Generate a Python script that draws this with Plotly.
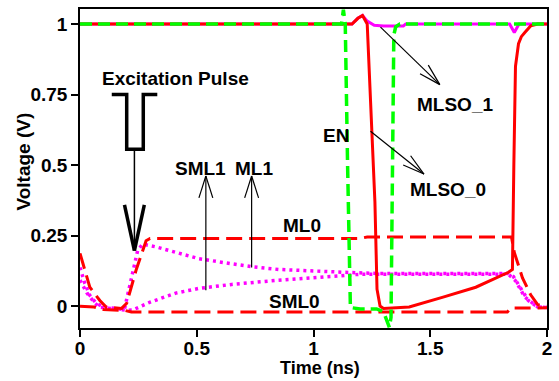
import plotly.graph_objects as go

# ---------------- data ----------------
ml0_t = [0, 0.021, 0.042, 0.085, 0.113, 0.178, 0.20, 0.24, 0.283, 0.30, 1.20, 1.23, 1.848, 1.86, 1.895, 1.93, 1.96, 2.0]
ml0_v = [0.187, 0.127, 0.067, 0.02, -0.004, -0.008, 0.01, 0.127, 0.232, 0.24, 0.24, 0.245, 0.245, 0.19, 0.10, 0.04, 0.005, 0.0]

sml0_t = [0, 0.06, 0.10, 0.19, 0.22, 1.83, 1.845, 2.0]
sml0_v = [0.0, -0.003, -0.012, -0.015, -0.021, -0.021, -0.007, -0.006]

ml1_t = [0, 0.021, 0.042, 0.07, 0.10, 0.19, 0.247, 0.268, 0.325, 0.41, 0.51, 0.65, 0.735, 0.85, 0.99, 1.13, 1.27, 1.835, 1.856, 1.895, 1.92, 1.96, 2.0]
ml1_v = [0.137, 0.08, 0.038, 0.01, -0.003, -0.012, 0.197, 0.22, 0.21, 0.19, 0.168, 0.15, 0.14, 0.13, 0.124, 0.12, 0.116, 0.116, 0.105, 0.056, 0.02, -0.003, -0.005]

sml1_t = [0, 0.03, 0.064, 0.085, 0.20, 0.225, 0.30, 0.41, 0.51, 0.65, 0.85, 0.99, 1.09, 1.20, 1.835, 1.865, 1.905, 1.96, 2.0]
sml1_v = [0.092, 0.046, 0.01, -0.004, -0.015, -0.014, 0.014, 0.046, 0.063, 0.077, 0.092, 0.099, 0.106, 0.113, 0.113, 0.09, 0.032, -0.003, -0.005]

mlso0_t = [0, 1.165, 1.19, 1.21, 1.23, 1.245, 1.263, 1.272, 1.285, 1.30, 1.41, 1.555, 1.695, 1.835, 1.852, 1.858, 1.865, 1.878, 1.89, 1.905, 1.93, 1.96, 2.0]
mlso0_v = [1, 1.0, 1.02, 1.03, 1.0, 0.7, 0.37, 0.06, 0.0, -0.008, -0.003, 0.032, 0.067, 0.12, 0.13, 0.5, 0.85, 0.93, 0.955, 0.97, 0.993, 1.0, 1.0]

mlso1_t = [0, 1.165, 1.19, 1.21, 1.23, 1.26, 1.30, 1.35, 1.385, 1.395, 1.84, 1.85, 1.86, 1.87, 1.88, 2.0]
mlso1_v = [1, 1.0, 1.02, 1.03, 1.01, 0.995, 0.993, 0.993, 0.993, 1.0, 1.0, 0.985, 0.97, 0.985, 1.0, 1.0]

en_t = [0, 1.12, 1.128, 1.136, 1.146, 1.158, 1.20, 1.27, 1.30, 1.325, 1.332, 1.338, 1.344, 1.352, 1.37, 2.0]
en_v = [1, 1.0, 1.05, 1.0, 0.5, -0.005, -0.01, -0.01, -0.02, -0.075, -0.04, 0.5, 0.96, 0.99, 1.0, 1.0]

x_ticks = [0, 0.5, 1, 1.5, 2]
x_tick_text = ["0", "0.5", "1", "1.5", "2"]
y_ticks = [0, 0.25, 0.5, 0.75, 1]
y_tick_text = ["0", "0.25", "0.5", "0.75", "1"]

# ---------------- layout geometry ----------------
W, H = 559, 381
ML, MR, MT, MB = 80, 8, 7, 53
XR = [0, 2]
YR = [-0.0775, 1.053]
PW = W - ML - MR
PH = H - MT - MB
SX = PW / (XR[1] - XR[0])   # px per ns
SY = PH / (YR[1] - YR[0])   # px per V

RED = "#ff0000"
GREEN = "#00ff00"
MAG = "#ff00ff"
FONT = "Liberation Sans, Arial, sans-serif"

fig = go.Figure()

def add(t, v, color, width, dash):
    fig.add_trace(go.Scatter(x=t, y=v, mode="lines",
                             line=dict(color=color, width=width, dash=dash),
                             showlegend=False, hoverinfo="skip"))

add(ml1_t, ml1_v, MAG, 3.5, "3px,4px")
add(sml1_t, sml1_v, MAG, 3.5, "3px,4px")
add(ml0_t, ml0_v, RED, 3, "16px,7px")
add(sml0_t, sml0_v, RED, 3, "16px,7px")
add(mlso1_t, mlso1_v, MAG, 3, "solid")
add(mlso0_t, mlso0_v, RED, 3, "solid")
add(en_t, en_v, GREEN, 3.5, "12px,6px")

shapes = []

def seg(x0, y0, x1, y1, w):
    shapes.append(dict(type="line", xref="x", yref="y", x0=x0, y0=y0, x1=x1, y1=y1,
                       line=dict(color="black", width=w)))

def arrow(x0, y0, x1, y1, head_len, head_half, lw, hw):
    """Line from (x0,y0) to tip (x1,y1) with an open V head (sizes in px)."""
    seg(x0, y0, x1, y1, lw)
    dx = (x1 - x0) * SX
    dy = (y1 - y0) * SY
    L = (dx * dx + dy * dy) ** 0.5
    ux, uy = dx / L, dy / L
    bx, by = -ux * head_len, -uy * head_len
    for s in (1, -1):
        px = bx + s * (-uy) * head_half
        py = by + s * ux * head_half
        seg(x1, y1, x1 + px / SX, y1 + py / SY, hw)

# excitation pulse symbol
shapes.append(dict(type="path", xref="x", yref="y",
                   path="M 0.136 0.75 L 0.2 0.75 L 0.2 0.556 L 0.271 0.556 L 0.271 0.75 L 0.331 0.75",
                   line=dict(color="black", width=3.5)))
arrow(0.233, 0.556, 0.233, 0.197, 46, 10, 1.5, 3.5)
arrow(0.539, 0.056, 0.539, 0.461, 22, 7, 1.2, 1.2)
arrow(0.735, 0.137, 0.735, 0.461, 22, 7, 1.2, 1.2)
arrow(1.287, 0.989, 1.541, 0.785, 22, 6, 1.2, 1.2)
arrow(1.244, 0.62, 1.473, 0.468, 22, 6, 1.2, 1.2)

labels = [
    ("Excitation Pulse", 0.408, 0.806),
    ("SML1", 0.516, 0.489),
    ("ML1", 0.747, 0.489),
    ("ML0", 0.951, 0.285),
    ("SML0", 0.917, 0.016),
    ("EN", 1.096, 0.606),
    ("MLSO_1", 1.605, 0.715),
    ("MLSO_0", 1.575, 0.415),
]
annotations = [dict(text=s, x=x, y=y, xref="x", yref="y", showarrow=False,
                    xanchor="center", yanchor="middle",
                    font=dict(family=FONT, size=19, color="black", weight="bold"))
               for s, x, y in labels]

# axis titles placed as annotations for exact positioning
annotations.append(dict(text="Voltage (V)", textangle=-90, xref="paper", yref="y",
                        x=(23 - ML) / PW, y=0.514, showarrow=False,
                        xanchor="center", yanchor="middle",
                        font=dict(family=FONT, size=19, color="black", weight="bold")))
annotations.append(dict(text="Time (ns)", xref="x", yref="paper",
                        x=1.028, y=-(368 - (MT + PH)) / PH, showarrow=False,
                        xanchor="center", yanchor="middle",
                        font=dict(family=FONT, size=18, color="black", weight="bold")))

axis_common = dict(showline=True, linecolor="black", linewidth=1.5, mirror=True,
                   ticks="outside", ticklen=7, tickwidth=1.5, tickcolor="black",
                   showgrid=False, zeroline=False,
                   tickfont=dict(family=FONT, size=19, color="black", weight="bold"))

fig.update_layout(
    width=W, height=H,
    margin=dict(l=ML, r=MR, t=MT, b=MB, pad=0),
    paper_bgcolor="white", plot_bgcolor="white",
    xaxis=dict(range=XR, tickvals=x_ticks, ticktext=x_tick_text,
               ticklabelstandoff=-5, **axis_common),
    yaxis=dict(range=YR, tickvals=y_ticks, ticktext=y_tick_text, **axis_common),
    shapes=shapes,
    annotations=annotations,
)

fig.write_html("out.html")
